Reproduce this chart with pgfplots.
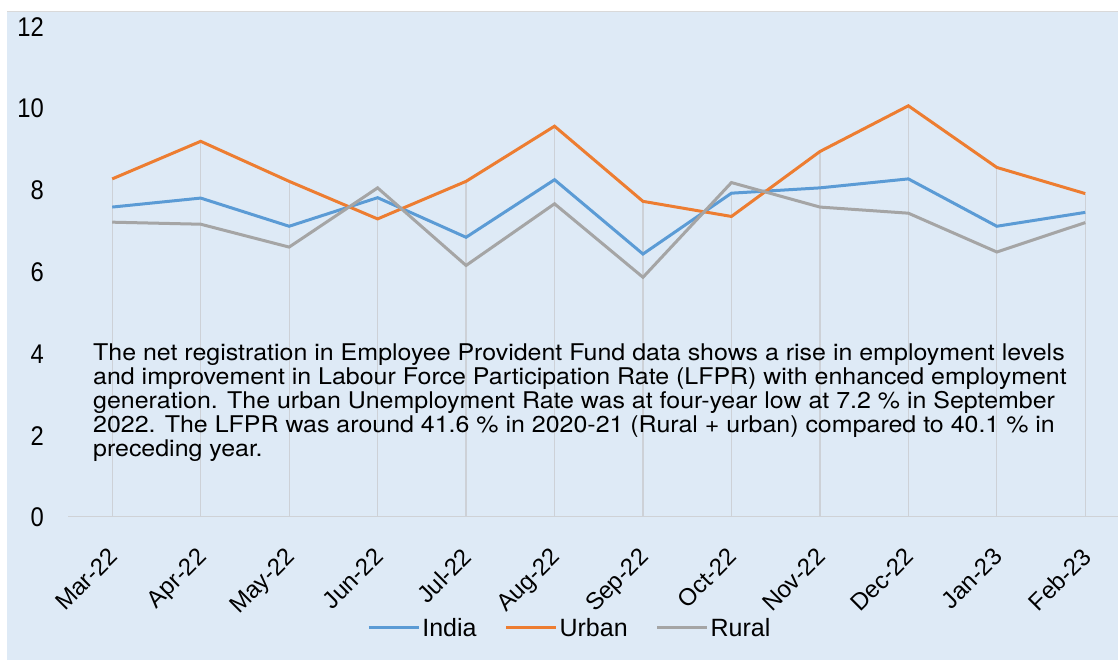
\documentclass[border=0pt]{standalone}
\usepackage{pgfplots}
\pgfplotsset{compat=1.18}
\usepackage{pgfplotstable}
\usepackage{fontspec}
\setmainfont{Liberation Sans}
\newfontfamily\heros[FakeStretch=1.085]{TeX Gyre Heros}
\newfontfamily\narrow[FakeStretch=0.88]{Liberation Sans}
\definecolor{bgblue}{HTML}{DEEAF6}
\definecolor{indiac}{HTML}{5B9BD5}
\definecolor{urbanc}{HTML}{ED7D31}
\definecolor{ruralc}{HTML}{A5A5A5}
\definecolor{gridc}{HTML}{CDD1D7}
\definecolor{axisc}{HTML}{CFD2D6}

\pgfplotstableread{
x India Urban Rural
0  7.59 8.28 7.22
1  7.81 9.20 7.17
2  7.12 8.22 6.61
3  7.82 7.30 8.06
4  6.85 8.22 6.16
5  8.26 9.57 7.67
6  6.44 7.73 5.87
7  7.93 7.36 8.19
8  8.06 8.95 7.59
9  8.28 10.07 7.44
10 7.12 8.56 6.49
11 7.46 7.92 7.21
}\data

\begin{document}
\begin{tikzpicture}
\useasboundingbox (0,0) rectangle (1118pt,660pt);
\fill[bgblue] (7pt,0) rectangle (1118pt,648pt);
\draw[gray!30, line width=1pt] (7pt,648pt) -- (1118pt,648pt);
\begin{axis}[
  at={(68pt,143pt)}, anchor=south west,
  scale only axis, width=1050pt, height=490pt,
  xmin=-0.5, xmax=11.37, ymin=0, ymax=12,
  clip=false,
  axis y line=none,
  axis x line*=bottom,
  x axis line style={axisc, line width=1pt, -},
  xtick={0,...,11},
  xticklabels={Mar-22,Apr-22,May-22,Jun-22,Jul-22,Aug-22,Sep-22,Oct-22,Nov-22,Dec-22,Jan-23,Feb-23},
  major tick length=0pt,
  /pgf/number format/assume math mode=true,
  xticklabel style={xshift=-5pt, yshift=-29pt, rotate=45, anchor=north east, inner sep=0pt, font=\fontsize{24}{24}\selectfont},
  legend style={at={(0.478,-0.2265)}, anchor=center, draw=none, fill=none,
    legend columns=3, font=\fontsize{25}{25}\selectfont,
    /tikz/every even column/.append style={column sep=26pt}},
  legend image code/.code={\draw[#1] (0pt,0pt) -- (50pt,0pt);},
]
\addplot[ycomb, gridc, line width=1.2pt, forget plot] table[x=x, y=India] {\data};
\addplot[ycomb, gridc, line width=1.2pt, forget plot] table[x=x, y=Urban] {\data};
\addplot[indiac, line width=3pt] table[x=x, y=India] {\data};
\addlegendentry{India}
\addplot[urbanc, line width=3pt] table[x=x, y=Urban] {\data};
\addlegendentry{Urban}
\addplot[ruralc, line width=3pt] table[x=x, y=Rural] {\data};
\addlegendentry{Rural}
\end{axis}
\foreach \v/\py in {0/517,2/436,4/354,6/272,8/190,10/108,12/27} {
  \node[anchor=east, inner sep=0pt, font=\narrow\fontsize{27}{27}\selectfont] at (44pt,{660pt-\py pt}) {\v};
}
\node[anchor=north west, inner sep=0pt, align=left, font=\heros\fontsize{23}{23.9}\selectfont] at (93pt,316pt)
{The net registration in Employee Provident Fund data shows a rise in employment levels\\
and improvement in Labour Force Participation Rate (LFPR) with enhanced employment\\
generation. The urban Unemployment Rate was at four-year low at 7.2 \% in September\\
2022. The LFPR was around 41.6 \% in 2020-21 (Rural + urban) compared to 40.1 \% in\\
preceding year.};
\end{tikzpicture}
\end{document}
